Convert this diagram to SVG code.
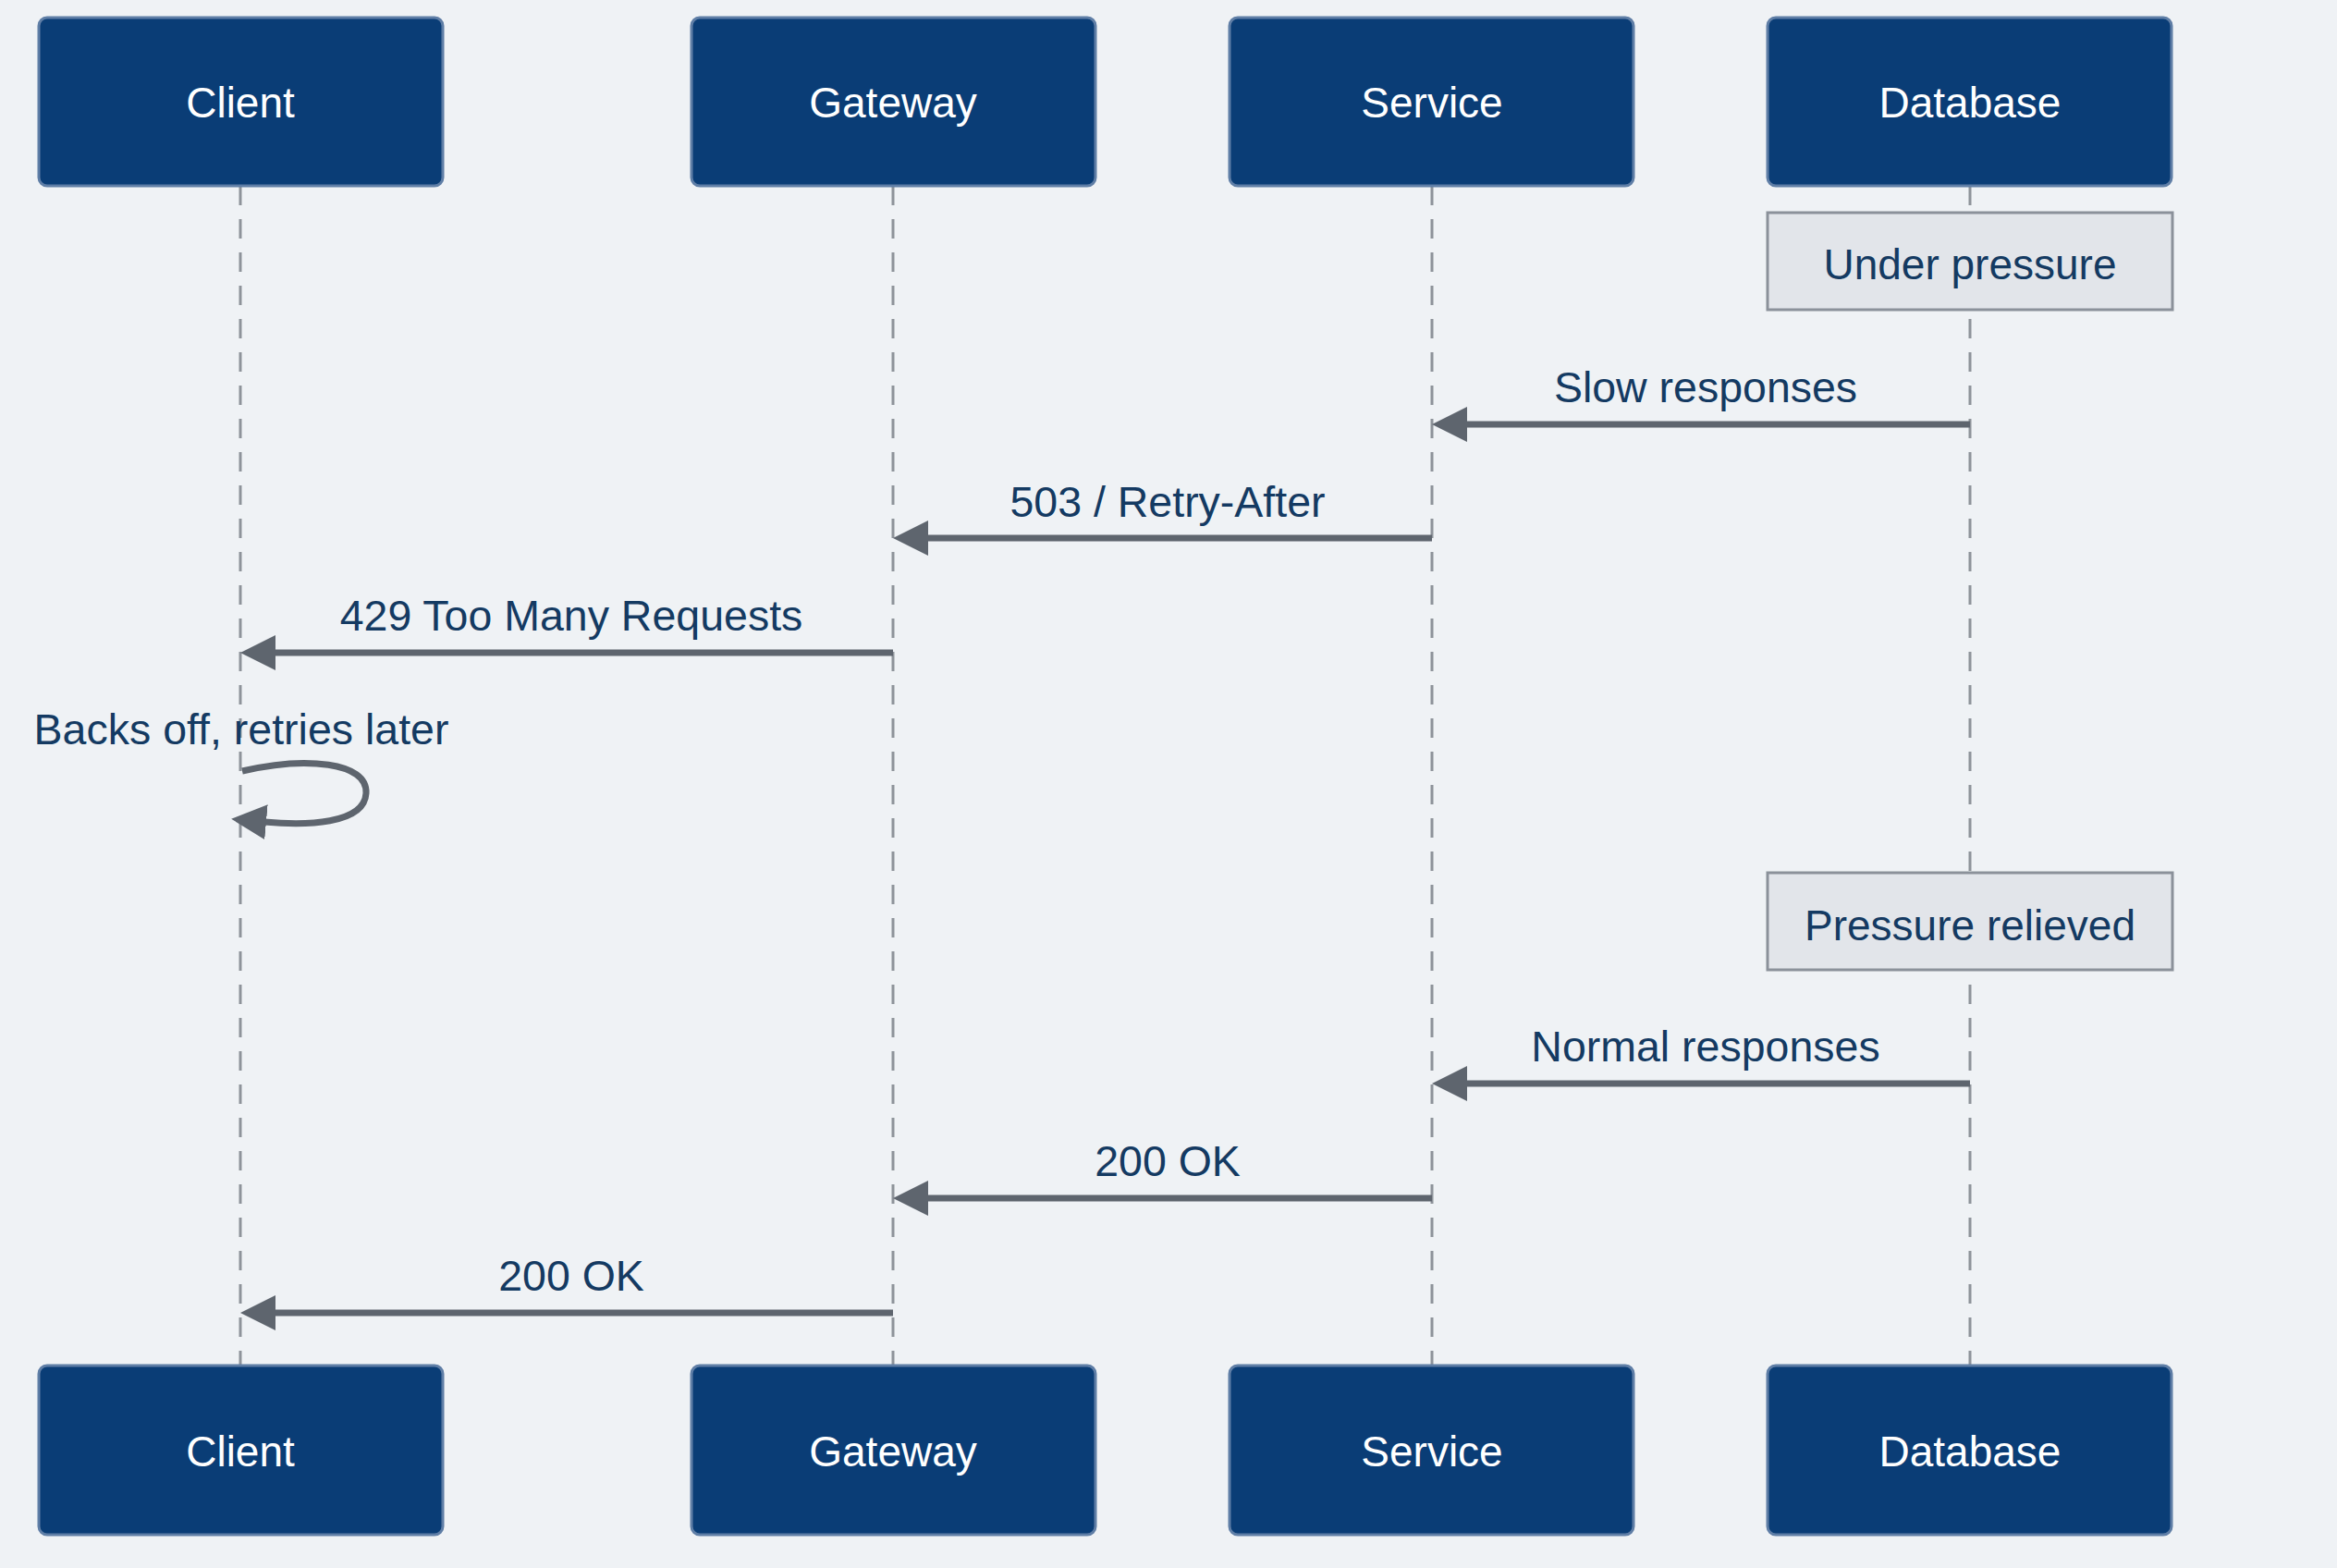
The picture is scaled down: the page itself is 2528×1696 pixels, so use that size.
<svg xmlns="http://www.w3.org/2000/svg" width="2528" height="1696" viewBox="0 0 2528 1696">
<defs>
<style>
.actor rect{fill:#0a3d76;stroke:#5f7ea6;stroke-width:3}
.actor text{fill:#ffffff;font-family:"Liberation Sans",Arial,sans-serif;font-size:46px;text-anchor:middle}
.note rect{fill:#e2e5ea;stroke:#8b919a;stroke-width:3}
.note text{fill:#143a62;font-family:"Liberation Sans",Arial,sans-serif;font-size:46px;text-anchor:middle}
.life{stroke:#8e939a;stroke-width:3;stroke-dasharray:21 15;fill:none}
.msg{stroke:#5e656e;stroke-width:7;fill:none;marker-end:url(#ah)}
.lbl{fill:#143a62;font-family:"Liberation Sans",Arial,sans-serif;font-size:46.5px;text-anchor:middle}
</style>
<marker id="ah" viewBox="0 0 38 38" markerWidth="38" markerHeight="38" markerUnits="userSpaceOnUse" refX="2" refY="19" orient="auto">
<path d="M0,0 L38,19 L0,38 z" fill="#5e656e"/>
</marker>
</defs>
<rect x="0" y="0" width="2528" height="1696" fill="#eff2f5"/>

<g id="lifelines">
<line class="life" x1="260" y1="201" x2="260" y2="1477"/>
<line class="life" x1="966" y1="201" x2="966" y2="1477"/>
<line class="life" x1="1549" y1="201" x2="1549" y2="1477"/>
<line class="life" x1="2131" y1="201" x2="2131" y2="1477"/>
</g>

<g id="connectors">
<line class="msg" x1="2131" y1="459" x2="1585" y2="459"/>
<text class="lbl" x="1845" y="435">Slow responses</text>
<line class="msg" x1="1549" y1="582" x2="1002" y2="582"/>
<text class="lbl" x="1263" y="559">503 / Retry-After</text>
<line class="msg" x1="966" y1="706" x2="296" y2="706"/>
<text class="lbl" x="618" y="682">429 Too Many Requests</text>
<path class="msg" d="M262,834 C330,818 398,824 396,858 C394,892 330,893 286,889"/>
<text class="lbl" x="261" y="805">Backs off, retries later</text>
<line class="msg" x1="2131" y1="1172" x2="1585" y2="1172"/>
<text class="lbl" x="1845" y="1148">Normal responses</text>
<line class="msg" x1="1549" y1="1296" x2="1002" y2="1296"/>
<text class="lbl" x="1263" y="1272">200 OK</text>
<line class="msg" x1="966" y1="1420" x2="296" y2="1420"/>
<text class="lbl" x="618" y="1396">200 OK</text>
</g>

<g id="note-under-pressure" class="note">
<rect x="1912" y="230" width="438" height="105"/>
<text x="2131" y="302">Under pressure</text>
</g>
<g id="note-pressure-relieved" class="note">
<rect x="1912" y="944" width="438" height="105"/>
<text x="2131" y="1017">Pressure relieved</text>
</g>

<g id="client-top" class="actor"><rect x="42" y="19" width="437" height="182" rx="9"/><text x="260" y="127">Client</text></g>
<g id="gateway-top" class="actor"><rect x="748" y="19" width="437" height="182" rx="9"/><text x="966" y="127">Gateway</text></g>
<g id="service-top" class="actor"><rect x="1330" y="19" width="437" height="182" rx="9"/><text x="1549" y="127">Service</text></g>
<g id="database-top" class="actor"><rect x="1912" y="19" width="437" height="182" rx="9"/><text x="2131" y="127">Database</text></g>

<g id="client-bottom" class="actor"><rect x="42" y="1477" width="437" height="183" rx="9"/><text x="260" y="1586">Client</text></g>
<g id="gateway-bottom" class="actor"><rect x="748" y="1477" width="437" height="183" rx="9"/><text x="966" y="1586">Gateway</text></g>
<g id="service-bottom" class="actor"><rect x="1330" y="1477" width="437" height="183" rx="9"/><text x="1549" y="1586">Service</text></g>
<g id="database-bottom" class="actor"><rect x="1912" y="1477" width="437" height="183" rx="9"/><text x="2131" y="1586">Database</text></g>
</svg>
